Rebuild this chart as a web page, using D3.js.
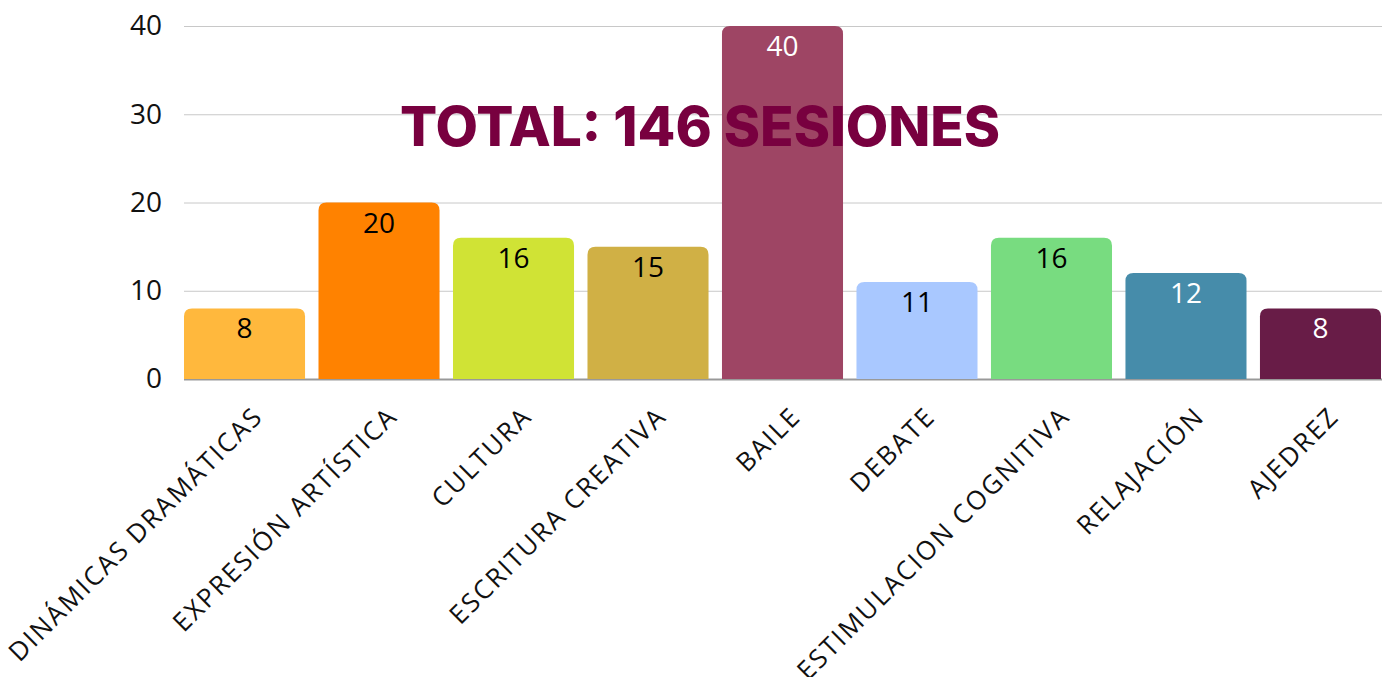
<!DOCTYPE html>
<html>
<head>
<meta charset="utf-8">
<script src="https://d3js.org/d3.v7.min.js"></script>
<style>
  body { margin: 0; padding: 0; background: #fff; }
  svg { display: block; }
</style>
</head>
<body>
<div id="my_dataviz"></div>
<script>
  // data
  var categories = ["DINÁMICAS DRAMÁTICAS", "EXPRESIÓN ARTÍSTICA", "CULTURA", "ESCRITURA CREATIVA",
                    "BAILE", "DEBATE", "ESTIMULACION COGNITIVA", "RELAJACIÓN", "AJEDREZ"];
  var sessions = [8, 20, 16, 15, 40, 11, 16, 12, 8];
  var barColors = ["#FFB83D", "#FF8200", "#D0E335", "#D0B045", "#9E4564",
                   "#A9C8FF", "#78DC80", "#468CAA", "#681C47"];
  var labelColors = ["#000", "#000", "#000", "#000", "#fff", "#000", "#000", "#fff", "#fff"];
  var yTicks = [0, 10, 20, 30, 40];
  var titleText = "TOTAL: 146 SESIONES";

  var W = 1382, H = 677;
  var mLeft = 184, mRight = 1381, mTop = 26, mBottom = 379;

  var svg = d3.select("#my_dataviz")
    .append("svg")
    .attr("width", W)
    .attr("height", H);

  var x = d3.scaleBand()
    .domain(categories)
    .range([mLeft, mRight])
    .paddingInner(0.1)
    .paddingOuter(0);

  var y = d3.scaleLinear()
    .domain([0, 40])
    .range([mBottom, mTop]);

  // grid lines
  svg.append("g")
    .selectAll("line")
    .data(yTicks.filter(d => d > 0))
    .enter()
    .append("line")
    .attr("x1", mLeft)
    .attr("x2", W)
    .attr("y1", d => y(d) + 0.5)
    .attr("y2", d => y(d) + 0.5)
    .style("stroke", "#c8c8c8")
    .style("stroke-width", 1);

  // y axis labels
  var yAxis = svg.append("g")
    .attr("transform", "translate(" + (mLeft - 22) + ",0)")
    .call(d3.axisLeft(y).tickValues(yTicks).tickSize(0).tickPadding(0));
  yAxis.select(".domain").remove();
  yAxis.selectAll("text")
    .style("font-family", "'Open Sans'")
    .style("font-size", "28px")
    .style("fill", "#111");

  // baseline
  svg.append("line")
    .attr("x1", mLeft)
    .attr("x2", W)
    .attr("y1", mBottom + 0.5)
    .attr("y2", mBottom + 0.5)
    .style("stroke", "#999")
    .style("stroke-width", 2);

  // bars with rounded top corners
  function barPath(x0, y0, w, h, r) {
    r = Math.min(r, h, w / 2);
    return "M" + x0 + "," + (y0 + h) +
      "V" + (y0 + r) +
      "Q" + x0 + "," + y0 + " " + (x0 + r) + "," + y0 +
      "H" + (x0 + w - r) +
      "Q" + (x0 + w) + "," + y0 + " " + (x0 + w) + "," + (y0 + r) +
      "V" + (y0 + h) + "Z";
  }

  svg.append("g")
    .selectAll("path")
    .data(categories)
    .enter()
    .append("path")
    .attr("d", (d, i) => barPath(x(d), y(sessions[i]), x.bandwidth(), y(0) - y(sessions[i]), 8))
    .style("fill", (d, i) => barColors[i]);

  // value labels
  svg.append("g")
    .selectAll("text")
    .data(categories)
    .enter()
    .append("text")
    .attr("x", d => x(d) + x.bandwidth() / 2)
    .attr("y", (d, i) => y(sessions[i]) + 30)
    .attr("text-anchor", "middle")
    .style("font-family", "'Open Sans'")
    .style("font-size", "28px")
    .style("fill", (d, i) => labelColors[i])
    .text((d, i) => sessions[i]);

  // category labels
  svg.append("g")
    .selectAll("text")
    .data(categories)
    .enter()
    .append("text")
    .attr("transform", d => "translate(" + (x(d) + x.bandwidth() / 2 + 20) + "," + 418 + ") rotate(-45)")
    .attr("text-anchor", "end")
    .style("font-family", "'Open Sans'")
    .style("font-size", "26px")
    .style("letter-spacing", "2px")
    .style("fill", "#111")
    .text(d => d);

  // title
  svg.append("text")
    .attr("x", 400)
    .attr("y", 146)
    .style("font-family", "Inter")
    .style("font-weight", 800)
    .style("font-size", "55px")
    .style("fill", "#78003F")
    .text(titleText);
</script>
</body>
</html>
